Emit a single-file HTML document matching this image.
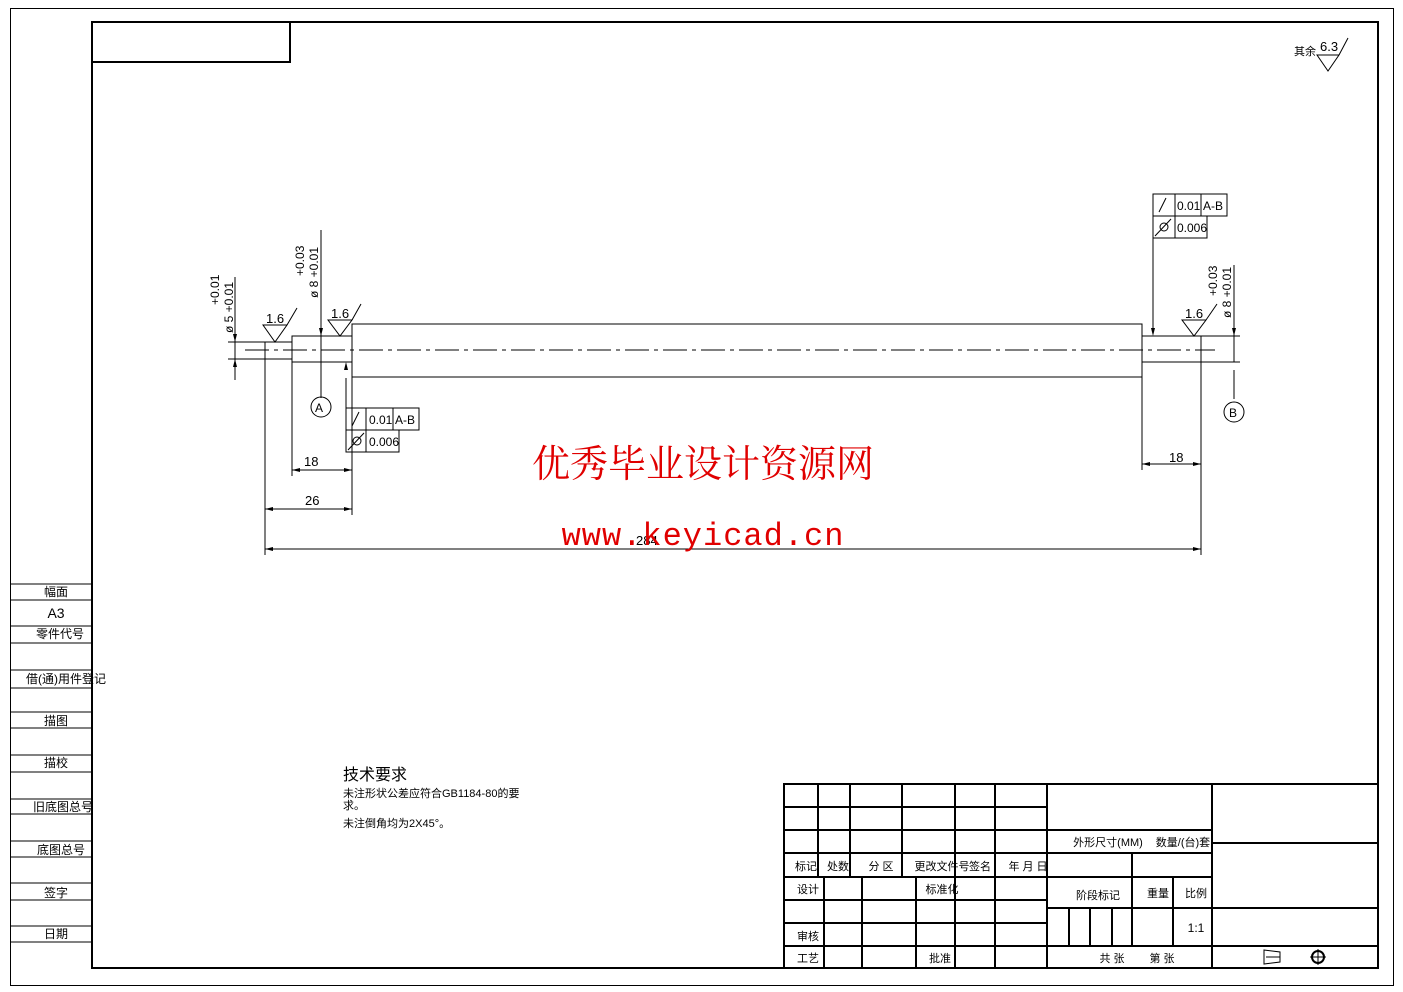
<!DOCTYPE html>
<html><head><meta charset="utf-8"><style>
html,body{margin:0;padding:0;background:#fff}
svg{display:block}
text{font-family:"Liberation Sans","Noto Sans CJK SC",sans-serif;fill:#000}
</style></head><body>
<svg width="1403" height="992" viewBox="0 0 1403 992" xmlns="http://www.w3.org/2000/svg">
<g fill="none" stroke="#000" stroke-width="1">
<rect x="10.5" y="8.5" width="1383" height="977"/>
<rect x="92" y="22" width="1286" height="946" stroke-width="2"/>
<rect x="92" y="22" width="198" height="40" stroke-width="2"/>
<line x1="10" y1="584" x2="92" y2="584"/><line x1="10" y1="600" x2="92" y2="600"/>
<line x1="10" y1="626" x2="92" y2="626"/><line x1="10" y1="643" x2="92" y2="643"/>
<line x1="10" y1="670" x2="92" y2="670"/><line x1="10" y1="688" x2="92" y2="688"/>
<line x1="10" y1="712" x2="92" y2="712"/><line x1="10" y1="728" x2="92" y2="728"/>
<line x1="10" y1="755" x2="92" y2="755"/><line x1="10" y1="772" x2="92" y2="772"/>
<line x1="10" y1="799" x2="92" y2="799"/><line x1="10" y1="814" x2="92" y2="814"/>
<line x1="10" y1="841" x2="92" y2="841"/><line x1="10" y1="857" x2="92" y2="857"/>
<line x1="10" y1="883" x2="92" y2="883"/><line x1="10" y1="900" x2="92" y2="900"/>
<line x1="10" y1="926" x2="92" y2="926"/><line x1="10" y1="942" x2="92" y2="942"/>
<rect x="352" y="324" width="790" height="53"/>
<rect x="292" y="336" width="60" height="26"/>
<rect x="1142" y="336" width="59" height="26"/>
<line x1="265" y1="342" x2="292" y2="342"/><line x1="265" y1="359" x2="292" y2="359"/>
<line x1="245" y1="350" x2="1215" y2="350" stroke-dasharray="24,5,4,5"/>
<line x1="265" y1="342" x2="265" y2="555"/>
<line x1="292" y1="362" x2="292" y2="476"/>
<line x1="352" y1="377" x2="352" y2="515"/>
<line x1="1142" y1="377" x2="1142" y2="470"/>
<line x1="1201" y1="362" x2="1201" y2="555"/>
<line x1="228" y1="342" x2="265" y2="342"/><line x1="228" y1="359" x2="265" y2="359"/>
<line x1="1201" y1="336" x2="1240" y2="336"/><line x1="1201" y1="362" x2="1240" y2="362"/>
<line x1="292" y1="470" x2="352" y2="470"/>
<line x1="265" y1="509" x2="352" y2="509"/>
<line x1="265" y1="549" x2="1201" y2="549"/>
<line x1="1142" y1="464" x2="1201" y2="464"/>
<line x1="235" y1="277" x2="235" y2="380"/>
<line x1="321" y1="230" x2="321" y2="398"/>
<line x1="1234" y1="265" x2="1234" y2="362"/>
<line x1="1234" y1="370" x2="1234" y2="399"/>
<circle cx="321" cy="407" r="10"/>
<circle cx="1234" cy="412" r="10"/>
<path d="M263 325 L287 325 L275 342 Z M287 325 L297 308"/>
<path d="M328 320 L352 320 L340 336 Z M352 320 L361 304"/>
<path d="M1182 320 L1206 320 L1194 336 Z M1206 320 L1217 304"/>
<path d="M1317 55 L1339 55 L1328 71 Z M1339 55 L1348 38 M1319 55 L1339 55"/>
<rect x="346" y="408" width="73" height="22"/>
<line x1="366" y1="408" x2="366" y2="452"/><line x1="393" y1="408" x2="393" y2="430"/>
<rect x="346" y="430" width="53" height="22"/>
<line x1="346" y1="378" x2="346" y2="408"/>
<rect x="1153" y="194" width="74" height="22"/>
<rect x="1153" y="216" width="54" height="22"/>
<line x1="1175" y1="194" x2="1175" y2="238"/><line x1="1201" y1="194" x2="1201" y2="216"/>
<line x1="1153" y1="238" x2="1153" y2="334"/>
<path d="M352 426 L359 412 M1159 212 L1166 198"/>
<path d="M348 450 L364 433"/><circle cx="357" cy="441" r="4"/>
<path d="M1155 236 L1171 219"/><circle cx="1164" cy="227" r="4"/>
<g stroke-width="2">
<rect x="784" y="784" width="594" height="184"/>
<line x1="784" y1="807" x2="1047" y2="807"/>
<line x1="784" y1="830" x2="1047" y2="830"/>
<line x1="784" y1="853" x2="1212" y2="853"/>
<line x1="784" y1="877" x2="1212" y2="877"/>
<line x1="784" y1="900" x2="1047" y2="900"/>
<line x1="784" y1="923" x2="1047" y2="923"/>
<line x1="784" y1="946" x2="1378" y2="946"/>
<line x1="1047" y1="830" x2="1212" y2="830"/>
<line x1="1047" y1="908" x2="1378" y2="908"/>
<line x1="1212" y1="843" x2="1378" y2="843"/>
<line x1="1047" y1="784" x2="1047" y2="968"/>
<line x1="1212" y1="784" x2="1212" y2="968"/>
<line x1="818" y1="784" x2="818" y2="877"/>
<line x1="850" y1="784" x2="850" y2="877"/>
<line x1="902" y1="784" x2="902" y2="877"/>
<line x1="955" y1="784" x2="955" y2="968"/>
<line x1="995" y1="784" x2="995" y2="968"/>
<line x1="824" y1="877" x2="824" y2="968"/>
<line x1="862" y1="877" x2="862" y2="968"/>
<line x1="916" y1="877" x2="916" y2="968"/>
<line x1="1132" y1="853" x2="1132" y2="946"/>
<line x1="1173" y1="877" x2="1173" y2="946"/>
<line x1="1069" y1="908" x2="1069" y2="946"/>
<line x1="1090" y1="908" x2="1090" y2="946"/>
<line x1="1112" y1="908" x2="1112" y2="946"/>
</g>
<path d="M1264 950 L1280 952 L1280 962 L1264 964 Z M1264 950 L1264 964 M1266 957 L1280 957"/>
<circle cx="1318" cy="957" r="6" stroke-width="2"/><path d="M1310 957 L1326 957 M1318 949 L1318 965"/>
</g>
<g fill="#000">
<path d="M292 470 l8 -2 v4 Z M352 470 l-8 -2 v4 Z"/>
<path d="M265 509 l8 -2 v4 Z M352 509 l-8 -2 v4 Z"/>
<path d="M265 549 l8 -2 v4 Z M1201 549 l-8 -2 v4 Z"/>
<path d="M1142 464 l8 -2 v4 Z M1201 464 l-8 -2 v4 Z"/>
<path d="M235 342 l-2 -8 h4 Z M235 359 l-2 8 h4 Z"/>
<path d="M321 336 l-2 -8 h4 Z M346 362 l-2 8 h4 Z"/>
<path d="M1234 336 l-2 -8 h4 Z M1153 336 l-2 -8 h4 Z"/>
</g>
<g font-size="13">
<text x="266" y="323">1.6</text>
<text x="331" y="318">1.6</text>
<text x="1185" y="318">1.6</text>
<text x="1320" y="51">6.3</text>
<text x="1294" y="55" font-size="11">其余</text>
<text x="304" y="466">18</text><text x="305" y="505">26</text>
<text x="636" y="545">284</text><text x="1169" y="462">18</text>
<text x="315" y="412" font-size="12">A</text><text x="1229" y="417" font-size="12">B</text>
<text x="369" y="424" font-size="12">0.01</text><text x="395" y="424" font-size="12">A-B</text>
<text x="369" y="446" font-size="12">0.006</text>
<text x="1177" y="210" font-size="12">0.01</text><text x="1203" y="210" font-size="12">A-B</text>
<text x="1177" y="232" font-size="12">0.006</text>
</g>
<g font-size="12">
<text transform="translate(233 333) rotate(-90)">ø 5 +0.01</text>
<text transform="translate(219 305) rotate(-90)">+0.01</text>
<text transform="translate(318 298) rotate(-90)">ø 8 +0.01</text>
<text transform="translate(304 276) rotate(-90)">+0.03</text>
<text transform="translate(1231 318) rotate(-90)">ø 8 +0.01</text>
<text transform="translate(1217 296) rotate(-90)">+0.03</text>
</g>
<g font-size="12" text-anchor="middle">
<text x="56" y="596">幅面</text><text x="56" y="618" font-size="14">A3</text>
<text x="60" y="638">零件代号</text><text x="66" y="683">借(通)用件登记</text>
<text x="56" y="725">描图</text><text x="56" y="767">描校</text>
<text x="63" y="811">旧底图总号</text><text x="61" y="854">底图总号</text>
<text x="56" y="897">签字</text><text x="56" y="938">日期</text>
</g>
<text x="343" y="780" font-size="16">技术要求</text>
<g font-size="11">
<text x="343" y="797">未注形状公差应符合GB1184-80的要</text>
<text x="343" y="809">求。</text>
<text x="343" y="827">未注倒角均为2X45°。</text>
</g>
<g font-size="11" text-anchor="middle">
<text x="806" y="870">标记</text><text x="838" y="870">处数</text><text x="881" y="870">分 区</text>
<text x="942" y="870">更改文件号</text><text x="980" y="870">签名</text><text x="1028" y="870">年 月 日</text>
<text x="808" y="893">设计</text><text x="942" y="893">标准化</text>
<text x="808" y="940">审核</text><text x="808" y="962">工艺</text><text x="940" y="962">批准</text>
<text x="1108" y="846">外形尺寸(MM)</text><text x="1183" y="846">数量/(台)套</text>
<text x="1098" y="899">阶段标记</text><text x="1158" y="897">重量</text><text x="1196" y="897">比例</text>
<text x="1196" y="932" font-size="12">1:1</text>
<text x="1112" y="962">共  张</text><text x="1162" y="962">第  张</text>
</g>
<text x="703" y="477" text-anchor="middle" style="font-family:'Noto Serif CJK SC',serif;font-size:38px;fill:#e00000">优秀毕业设计资源网</text>
<text x="703" y="545" text-anchor="middle" style="font-family:'Liberation Mono',monospace;font-size:32px;fill:#e00000;letter-spacing:1px">www.keyicad.cn</text>
</svg>
</body></html>
